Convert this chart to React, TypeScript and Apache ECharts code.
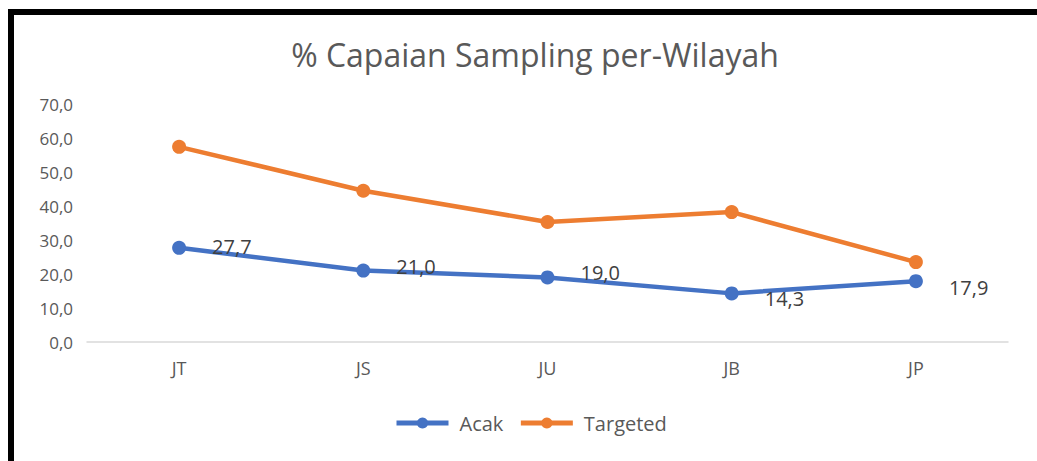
import React, { useEffect, useRef } from "react";
import * as echarts from "echarts";

const categories = ["JT", "JS", "JU", "JB", "JP"];
const acak = [27.7, 21.0, 19.0, 14.3, 17.9];
const targeted = [57.4, 44.5, 35.3, 38.2, 23.5];
const acakLabelOffsets = [[0, -1], [0, -4], [0, -5], [0, 5], [0, 6]];

const FONT = "'Open Sans', sans-serif";
const fmt = (v: number) => v.toFixed(1).replace(".", ",");

export default function App() {
  const ref = useRef<HTMLDivElement>(null);
  useEffect(() => {
    if (!ref.current) return;
    const chart = echarts.init(ref.current, null, { renderer: "svg" });
    chart.setOption({
      animation: false,
      backgroundColor: "#ffffff",
      title: {
        text: "% Capaian Sampling per-Wilayah",
        left: 530,
        textAlign: "center",
        top: 33,
        textStyle: { fontFamily: FONT, fontSize: 32, fontWeight: "normal", color: "#595959" },
      },
      graphic: [
        { type: "rect", shape: { x: 8, y: 9, width: 6, height: 452 }, style: { fill: "#000" } },
        { type: "rect", shape: { x: 8, y: 9, width: 1029, height: 6 }, style: { fill: "#000" } },
      ],
      legend: {
        left: 389,
        top: 408,
        itemWidth: 52,
        itemHeight: 14,
        itemGap: 15,
        lineStyle: { width: 5 },
        textStyle: { fontFamily: FONT, fontSize: 20, color: "#595959", padding: [0, 0, 0, 6] },
        data: ["Acak", "Targeted"],
      },
      grid: { left: 87, right: 29, top: 104, bottom: 119, containLabel: false },
      xAxis: {
        type: "category",
        data: categories,
        boundaryGap: true,
        axisLine: { show: true, lineStyle: { color: "#D9D9D9", width: 1.5 } },
        axisTick: { show: false },
        axisLabel: { fontFamily: FONT, fontSize: 18, color: "#595959", margin: 17 },
        splitLine: { show: false },
      },
      yAxis: {
        type: "value",
        min: 0,
        max: 70,
        interval: 10,
        axisLine: { show: false },
        axisTick: { show: false },
        splitLine: { show: false },
        axisLabel: {
          fontFamily: FONT,
          fontSize: 17,
          color: "#595959",
          margin: 14,
          formatter: (v: number) => fmt(v),
        },
      },
      series: [
        {
          name: "Acak",
          type: "line",
          data: acak.map((v, i) => ({
            value: v,
            label: { offset: acakLabelOffsets[i] },
          })),
          color: "#4472C4",
          symbol: "circle",
          symbolSize: 14,
          lineStyle: { width: 4.5, color: "#4472C4" },
          itemStyle: { color: "#4472C4" },
          label: {
            show: true,
            position: "right",
            distance: 26,
            fontFamily: FONT,
            fontSize: 20,
            color: "#404040",
            formatter: (p: any) => fmt(p.value),
          },
          z: 3,
        },
        {
          name: "Targeted",
          type: "line",
          data: targeted,
          color: "#ED7D31",
          symbol: "circle",
          symbolSize: 14,
          lineStyle: { width: 4.5, color: "#ED7D31" },
          itemStyle: { color: "#ED7D31" },
          z: 2,
        },
      ],
    });
    return () => chart.dispose();
  }, []);
  return (
    <div
      ref={ref}
      style={{ position: "fixed", left: 0, top: 0, width: 1037, height: 461 }}
    />
  );
}
